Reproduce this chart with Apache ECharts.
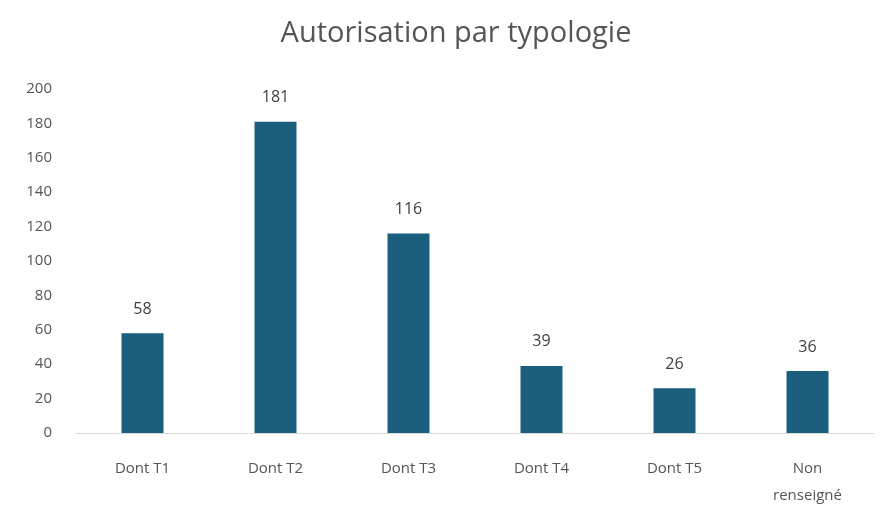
<!DOCTYPE html>
<html><head><meta charset="utf-8">
<script src="https://cdn.jsdelivr.net/npm/echarts@6/dist/echarts.min.js"></script>
<style>html,body{margin:0;padding:0;background:#fff}#c{width:888px;height:518px}</style>
</head><body><div id="c"></div>
<script>
const categories = ["Dont T1", "Dont T2", "Dont T3", "Dont T4", "Dont T5", "Non\nrenseigné"];
const values = [58, 181, 116, 39, 26, 36];
const yTicks = [0, 20, 40, 60, 80, 100, 120, 140, 160, 180, 200];

const chart = echarts.init(document.getElementById('c'));
chart.setOption({
  backgroundColor: '#ffffff',
  animation: false,
  title: {
    text: 'Autorisation par typologie',
    left: 451,
    textAlign: 'center',
    top: 14,
    textStyle: { fontFamily: 'Open Sans', fontSize: 29, fontWeight: 'normal', color: '#555555' }
  },
  grid: { left: 76, right: 14, top: 89, bottom: 85, containLabel: false },
  xAxis: {
    type: 'category',
    data: categories,
    axisLine: { lineStyle: { color: '#d9d9d9' } },
    axisTick: { show: false },
    axisLabel: { color: '#555555', fontFamily: 'Open Sans', fontSize: 15, margin: 22, lineHeight: 27 }
  },
  yAxis: {
    type: 'value',
    min: yTicks[0], max: yTicks[yTicks.length - 1], interval: 20,
    splitLine: { show: false },
    axisLine: { show: false },
    axisTick: { show: false },
    axisLabel: { color: '#555555', fontFamily: 'Open Sans', fontSize: 15, margin: 24 }
  },
  series: [{
    type: 'bar',
    data: values,
    barWidth: 42,
    itemStyle: { color: '#1b5e7e' },
    label: { show: true, position: 'top', distance: 16, color: '#404040', fontFamily: 'Open Sans', fontSize: 16 }
  }]
});
</script></body></html>
